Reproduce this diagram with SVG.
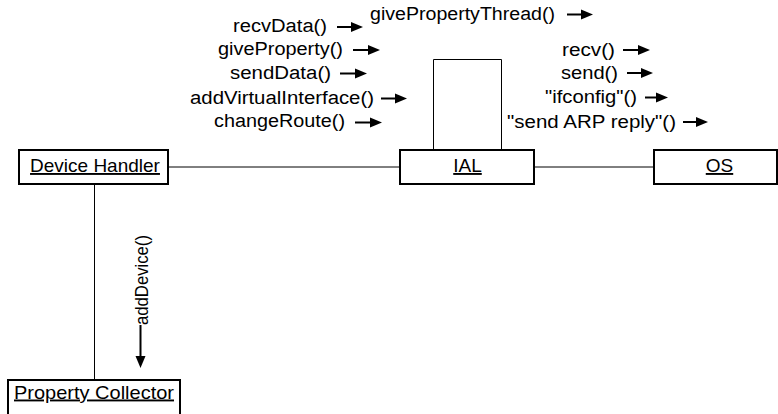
<svg xmlns="http://www.w3.org/2000/svg" width="778" height="414" viewBox="0 0 778 414">
<style>
.box{fill:#fff;stroke:#000;stroke-width:2}
.nl{font-family:"Liberation Sans",Arial,sans-serif;font-size:19px;text-anchor:middle;text-decoration:underline;fill:#000}
.el{font-family:"Liberation Sans",Arial,sans-serif;font-size:18px;fill:#000}
.ln{fill:none;stroke:#000;stroke-width:1}
.al{stroke:#000;stroke-width:2;fill:none}
.ah{fill:#000;stroke:none}
</style>
<rect width="778" height="414" fill="#fff"/>
<g id="connectors">
  <line class="ln" x1="169" y1="167" x2="399" y2="167"/>
  <line class="ln" x1="535" y1="167" x2="653" y2="167"/>
  <polyline class="ln" points="433.5,149 433.5,59.5 501.5,59.5 501.5,149"/>
  <line class="ln" x1="94.5" y1="185" x2="94.5" y2="379"/>
</g>
<g id="labels">
  <text class="el" x="233" y="32" textLength="94" lengthAdjust="spacingAndGlyphs">recvData()</text>
  <line class="al" x1="337" y1="27" x2="353" y2="27"/><polygon class="ah" points="351,22 363,27 351,32"/>
  <text class="el" x="218" y="55" textLength="125" lengthAdjust="spacingAndGlyphs">giveProperty()</text>
  <line class="al" x1="353" y1="50" x2="370" y2="50"/><polygon class="ah" points="368,45 380,50 368,55"/>
  <text class="el" x="230" y="79" textLength="101" lengthAdjust="spacingAndGlyphs">sendData()</text>
  <line class="al" x1="340" y1="73.5" x2="357" y2="73.5"/><polygon class="ah" points="355,68.5 367,73.5 355,78.5"/>
  <text class="el" x="190" y="104" textLength="184" lengthAdjust="spacingAndGlyphs">addVirtualInterface()</text>
  <line class="al" x1="381" y1="98.5" x2="397" y2="98.5"/><polygon class="ah" points="395,93.5 407,98.5 395,103.5"/>
  <text class="el" x="214" y="127" textLength="131" lengthAdjust="spacingAndGlyphs">changeRoute()</text>
  <line class="al" x1="355" y1="122.5" x2="372" y2="122.5"/><polygon class="ah" points="370,117.5 382,122.5 370,127.5"/>
  <text class="el" x="370" y="20" textLength="185" lengthAdjust="spacingAndGlyphs">givePropertyThread()</text>
  <line class="al" x1="567" y1="14.5" x2="583" y2="14.5"/><polygon class="ah" points="581,9.5 593,14.5 581,19.5"/>
  <text class="el" x="562" y="56" textLength="53" lengthAdjust="spacingAndGlyphs">recv()</text>
  <line class="al" x1="623" y1="50" x2="640" y2="50"/><polygon class="ah" points="638,45 650,50 638,55"/>
  <text class="el" x="561" y="79" textLength="57" lengthAdjust="spacingAndGlyphs">send()</text>
  <line class="al" x1="627" y1="73" x2="643" y2="73"/><polygon class="ah" points="641,68 653,73 641,78"/>
  <text class="el" x="545" y="103" textLength="92" lengthAdjust="spacingAndGlyphs">"ifconfig"()</text>
  <line class="al" x1="645" y1="97.5" x2="658" y2="97.5"/><polygon class="ah" points="656,92.5 668,97.5 656,102.5"/>
  <text class="el" x="507" y="127.5" textLength="169" lengthAdjust="spacingAndGlyphs">"send ARP reply"()</text>
  <line class="al" x1="683" y1="122" x2="698" y2="122"/><polygon class="ah" points="696,117 708,122 696,127"/>
  <text class="el" transform="translate(147.5,325) rotate(-90)" x="0" y="0" style="font-size:18.5px" textLength="90" lengthAdjust="spacingAndGlyphs">addDevice()</text>
  <line class="al" x1="140.5" y1="325" x2="140.5" y2="358"/><polygon class="ah" points="135.5,356 145.5,356 140.5,368"/>
</g>
<g id="device-handler">
  <rect class="box" x="19" y="150" width="149" height="34"/>
  <text class="nl" x="95" y="172">Device Handler</text>
</g>
<g id="ial">
  <rect class="box" x="400" y="150" width="134" height="34"/>
  <text class="nl" x="467.5" y="172">IAL</text>
</g>
<g id="os">
  <rect class="box" x="654" y="150" width="123" height="34"/>
  <text class="nl" x="719.5" y="172">OS</text>
</g>
<g id="property-collector">
  <rect class="box" x="8" y="380" width="172" height="60"/>
  <text class="nl" x="94" y="398.5" textLength="160" lengthAdjust="spacingAndGlyphs">Property Collector</text>
</g>
</svg>
